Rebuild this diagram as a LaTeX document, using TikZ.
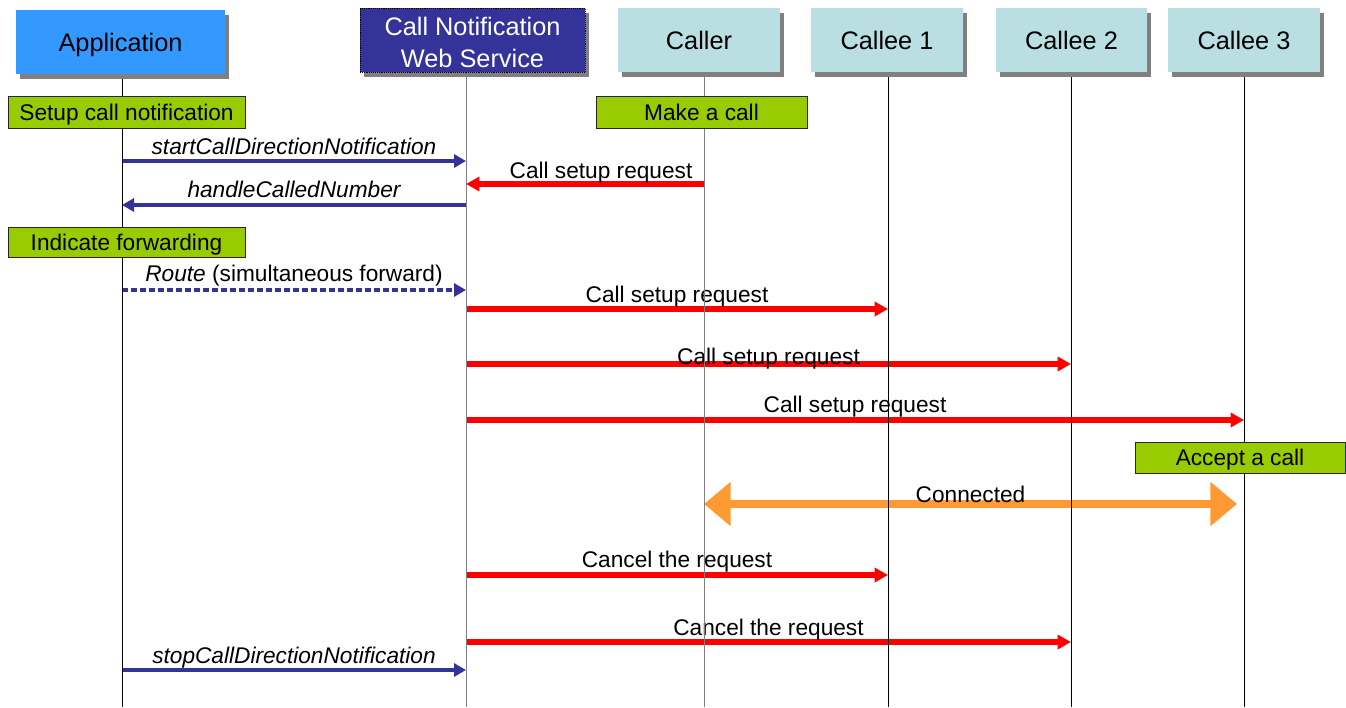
\documentclass[tikz,border=0pt]{standalone}
\usepackage{fontspec}
\setmainfont{Liberation Sans}
\usetikzlibrary{arrows.meta,shadows}
\definecolor{appblue}{HTML}{3399FF}
\definecolor{wsnavy}{HTML}{333399}
\definecolor{peerteal}{HTML}{B9DFE2}
\definecolor{notegreen}{HTML}{99CC00}
\definecolor{connorange}{HTML}{FF9933}
\tikzset{
	hdrbox/.style={minimum height=48pt, inner sep=0pt, align=center, font=\fontsize{19}{24}\selectfont,
		drop shadow={shadow xshift=3pt, shadow yshift=-3.75pt, fill=black!50, opacity=1}},
	hdr/.style={hdrbox, text height=13.7pt, text depth=0pt},
	note/.style={draw=black!85, line width=0.6pt, fill=notegreen, inner sep=0pt, minimum height=24pt,
		text height=12.2pt, text depth=0pt, font=\fontsize{17}{20}\selectfont},
	life/.style={line width=0.75pt},
	api/.style={wsnavy, line width=3pt, -{Triangle[length=9pt,width=9.75pt]}},
	sig/.style={red, line width=4.5pt, -{Triangle[length=10pt,width=10.5pt]}},
	lbl/.style={midway, anchor=base, yshift=5.25pt, text=black, font=\fontsize{17}{20}\selectfont},
}

\begin{document}
\begin{tikzpicture}[x=0.75pt, y=-0.75pt]
		%%%%% START %%%%%
		\useasboundingbox (0,0) rectangle (1346,707);
		
		% lifeline tops
		\coordinate (appT) at (122,74);
		\coordinate (cnwsT) at (466,72);
		\coordinate (callerT) at (704,72);
		\coordinate (one) at (888,72);
		\coordinate (two) at (1071,72);
		\coordinate (three) at (1244,72);
		\coordinate (connEnd) at (1237,504);
		
		% messages
		\draw[api] (appT |- 0,161) -- (cnwsT |- 0,161) node[lbl] {\itshape startCallDirectionNotification};
		\draw[sig] (callerT |- 0,184) -- (cnwsT |- 0,184) node[lbl, xshift=12pt, yshift=-0.75pt] {Call setup request};
		\draw[api] (cnwsT |- 0,205) -- (appT |- 0,205) node[lbl, yshift=0.75pt] {\itshape handleCalledNumber};
		\draw[api, dash pattern=on 4.5pt off 2.25pt] (appT |- 0,290) -- (cnwsT |- 0,290) node[lbl, yshift=1.5pt] {\textit{Route} (simultaneous forward)};
		\draw[sig] (cnwsT |- 0,309) -- (one |- 0,309) node[lbl] {Call setup request};
		\draw[sig] (cnwsT |- 0,364) -- (two |- 0,364) node[lbl, yshift=-5.25pt] {Call setup request};
		\draw[sig] (cnwsT |- 0,420) -- (three |- 0,420) node[lbl, yshift=0.75pt] {Call setup request};
		\draw[connorange, line width=5.5pt, {Triangle[length=20pt,width=32pt]}-{Triangle[length=20pt,width=32pt]}] (callerT |- 0,504) -- (connEnd) node[lbl, yshift=-3.75pt] {Connected};
		\draw[sig] (cnwsT |- 0,575) -- (one |- 0,575) node[lbl, yshift=0.75pt] {Cancel the request};
		\draw[sig] (cnwsT |- 0,642) -- (two |- 0,642) node[lbl] {Cancel the request};
		\draw[api] (appT |- 0,670) -- (cnwsT |- 0,670) node[lbl] {\itshape stopCallDirectionNotification};
		
		% lifelines
		\draw[life] (appT) -- (appT |- 0,707);
		\draw[life, black!50] (cnwsT) -- (cnwsT |- 0,707);
		\draw[life, black!50] (callerT) -- (callerT |- 0,707);
		\draw[life] (one) -- (one |- 0,707);
		\draw[life] (two) -- (two |- 0,707);
		\draw[life] (three) -- (three |- 0,707);
		
		% notes
		\node[note, minimum width=177.75pt] (setup) at (126.5,112) {Setup call notification};
		\node[note, minimum width=158.25pt] (make) at (701.5,112) {Make a call};
		\node[note, minimum width=177.75pt, minimum height=22.5pt] (forward) at (126.5,242) {Indicate forwarding};
		\node[note, minimum width=157.5pt, minimum height=23.25pt] (accept) at (1240,457.5) {Accept a call};
		
		% headers
		\node[hdr, fill=appblue, minimum width=156.75pt] (app) at (120.5,42) {Application};
		\node[hdrbox, fill=wsnavy, text=white, draw=black, densely dotted, text height=40.7pt, text depth=0pt, minimum width=168.75pt] (cnws) at (472.5,40) {Call Notification\\Web Service};
		\node[hdr, fill=peerteal, minimum width=121.5pt] (caller) at (699,40) {Caller};
		\node[hdr, fill=peerteal, minimum width=114pt] (callee1) at (887,40) {Callee 1};
		\node[hdr, fill=peerteal, minimum width=113.25pt] (callee2) at (1071.5,40) {Callee 2};
		\node[hdr, fill=peerteal, minimum width=114pt] (callee3) at (1244,40) {Callee 3};
		%%%%% END %%%%%
\end{tikzpicture}
\end{document}
